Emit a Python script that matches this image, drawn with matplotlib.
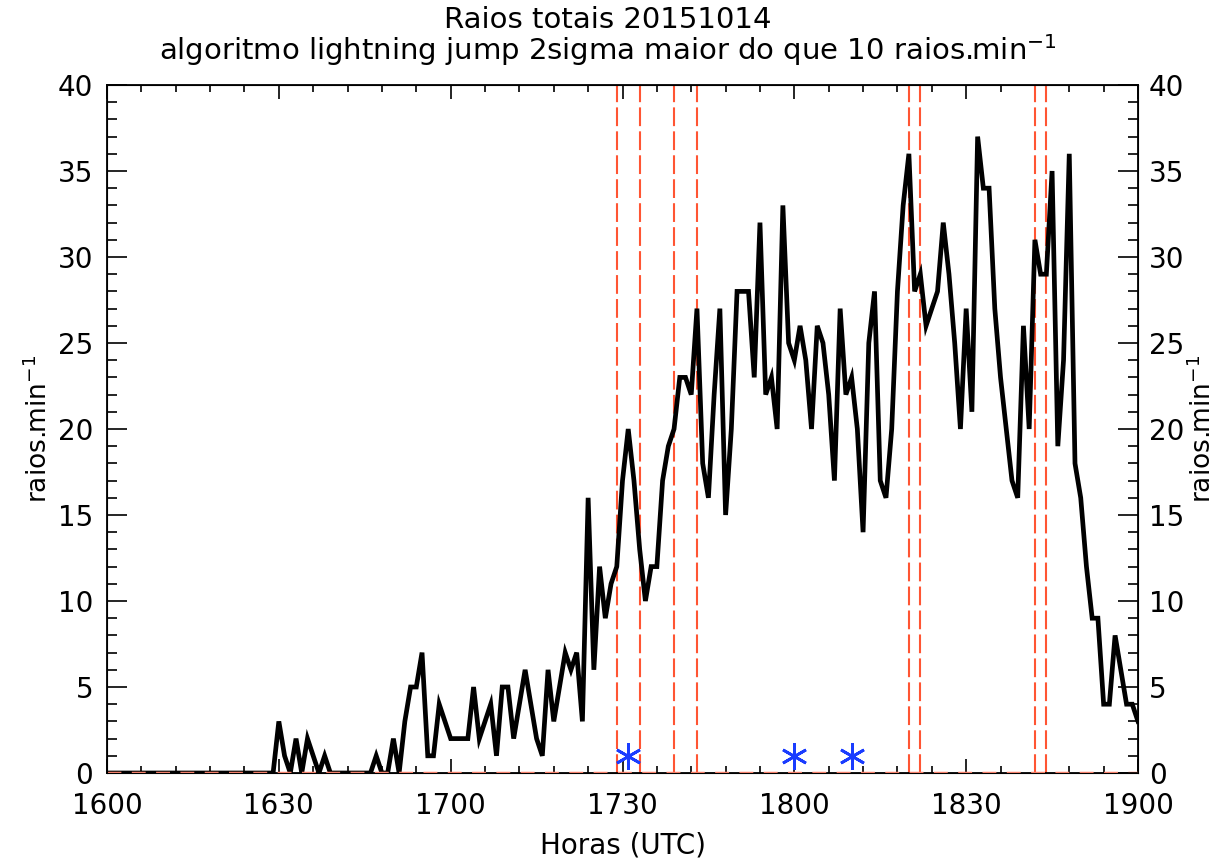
import numpy as np
import matplotlib
matplotlib.use("Agg")
import matplotlib.pyplot as plt
from matplotlib.ticker import MultipleLocator

# raios totais por minuto, 1600 a 1900 UTC
raios = [0] * 30 + [
    3, 1, 0, 2, 0, 2, 1, 0, 1, 0,                   # 1630-1639
    0, 0, 0, 0, 0, 0, 0, 1, 0, 0,                   # 1640-1649
    2, 0, 3, 5, 5, 7, 1, 1, 4, 3,                   # 1650-1659
    2, 2, 2, 2, 5, 2, 3, 4, 1, 5,                   # 1700-1709
    5, 2, 4, 6, 4, 2, 1, 6, 3, 5,                   # 1710-1719
    7, 6, 7, 3, 16, 6, 12, 9, 11, 12,               # 1720-1729
    17, 20, 17, 13, 10, 12, 12, 17, 19, 20,         # 1730-1739
    23, 23, 22, 27, 18, 16, 22, 27, 15, 20,         # 1740-1749
    28, 28, 28, 23, 32, 22, 23, 20, 33, 25,         # 1750-1759
    24, 26, 24, 20, 26, 25, 22, 17, 27, 22,         # 1800-1809
    23, 20, 14, 25, 28, 17, 16, 20, 28, 33,         # 1810-1819
    36, 28, 29, 26, 27, 28, 32, 29, 25, 20,         # 1820-1829
    27, 21, 37, 34, 34, 27, 23, 20, 17, 16,         # 1830-1839
    26, 20, 31, 29, 29, 35, 19, 24, 36, 18,         # 1840-1849
    16, 12, 9, 9, 4, 4, 8, 6, 4, 4,                 # 1850-1859
    3]                                              # 1900
minutos = np.arange(len(raios))

# lightning jumps (2sigma) e alertas
saltos_hhmm = [1729, 1733, 1739, 1743, 1820, 1822, 1842, 1844]
alertas_hhmm = [1731, 1800, 1810]
alertas_valor = [1, 1, 1]

rotulos_x = ['1600', '1630', '1700', '1730', '1800', '1830', '1900']


def hhmm_para_min(h):
    return (h // 100 - 16) * 60 + h % 100


plt.rcParams['font.family'] = ['DejaVu Sans']
fig = plt.figure(figsize=(12.25, 8.67), dpi=100)
ax = fig.add_axes([107 / 1225, 1 - 773 / 867, 1031 / 1225, 688 / 867])

ax.plot(minutos, raios, color='black', lw=3.4, zorder=3,
        solid_joinstyle='miter')

for h in saltos_hhmm:
    ax.axvline(hhmm_para_min(h), color='#ff5533', lw=1.5,
               dashes=(9, 2.5), zorder=2)
ax.axhline(0, color='#ff8670', lw=2.5, dashes=(4, 3), zorder=4)

ax.plot([hhmm_para_min(h) for h in alertas_hhmm], alertas_valor,
        linestyle='none', marker=(6, 2, 0), markersize=19,
        markeredgewidth=2, color='#1a3cff', zorder=5)

ax.set_xlim(0, 180)
ax.set_ylim(0, 40)
ax.xaxis.set_minor_locator(MultipleLocator(6))
ax.yaxis.set_major_locator(MultipleLocator(5))
ax.yaxis.set_minor_locator(MultipleLocator(1))
ax.set_xticks(np.arange(0, 181, 30))
ax.set_xticklabels(rotulos_x)

ax.tick_params(axis='both', which='both', direction='in', top=True,
               width=1.2, labelsize=20, colors='black')
ax.tick_params(axis='y', which='major', length=14.5, pad=10)
ax.tick_params(axis='y', which='minor', length=7.5)
ax.tick_params(axis='x', which='major', length=10, pad=14)
ax.tick_params(axis='x', which='minor', length=5)
for s in ax.spines.values():
    s.set_linewidth(1.3)

ax2 = ax.twinx()
ax2.set_ylim(0, 40)
ax2.yaxis.set_major_locator(MultipleLocator(5))
ax2.yaxis.set_minor_locator(MultipleLocator(1))
ax2.tick_params(axis='y', which='both', direction='in', width=1.2,
                labelsize=20)
ax2.tick_params(axis='y', which='major', length=14.5, pad=8)
ax2.tick_params(axis='y', which='minor', length=7.5)

ax.set_xlabel('Horas (UTC)', fontsize=20, labelpad=8)
ax.set_ylabel('raios.min$^{-1}$', fontsize=19, labelpad=3)
ax2.set_ylabel('raios.min$^{-1}$', fontsize=19, labelpad=3)

fig.text(608 / 1225, 1 - 20 / 867, 'Raios totais 20151014', fontsize=21,
         ha='center', va='center')
fig.text(608 / 1225, 1 - 50 / 867,
         'algoritmo lightning jump 2sigma maior do que 10 raios.min$^{-1}$',
         fontsize=21, ha='center', va='center')

fig.savefig('out.png', dpi=100)
